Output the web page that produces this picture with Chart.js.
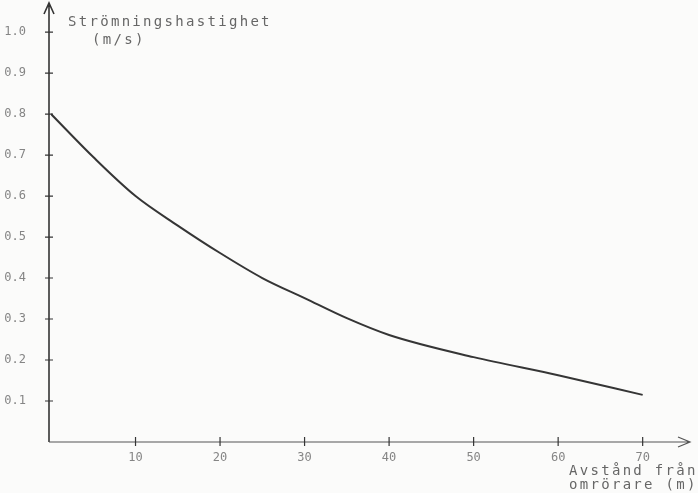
<!DOCTYPE html>
<html lang="sv">
<head>
<meta charset="UTF-8">
<title>Strömningshastighet</title>
<script src="https://cdn.jsdelivr.net/npm/chart.js"></script>
<style>
    body {
        margin: 0;
        background: #fbfbfa;
    }
    .wrap {
        position: relative;
        width: 698px;
        height: 493px;
    }
    .label {
        position: absolute;
        font-family: 'DejaVu Sans Mono', monospace;
        font-size: 14px;
        letter-spacing: 2.3px;
        color: #666;
        white-space: pre;
        line-height: 14px;
    }
</style>
</head>
<body>
<div class="wrap">
    <canvas id="chart" width="698" height="493"></canvas>
    <div class="label" style="left:68px; top:14px;">Strömningshastighet</div>
    <div class="label" style="left:92px; top:32px;">(m/s)</div>
    <div class="label" style="left:569px; top:463px;">Avstånd från</div>
    <div class="label" style="left:569px; top:477px;">omrörare (m)</div>
</div>

<script>
    // avstånd (m) och strömningshastighet (m/s), avläst ur kurvan
    const distance = [0, 5, 10, 15, 20, 25, 30, 35, 40, 50, 60, 70];
    const speed = [0.80, 0.695, 0.60, 0.528, 0.461, 0.40, 0.351, 0.302, 0.261, 0.207, 0.163, 0.115];

    const xTicks = [10, 20, 30, 40, 50, 60, 70];
    const yTicks = [0.1, 0.2, 0.3, 0.4, 0.5, 0.6, 0.7, 0.8, 0.9, 1.0];

    const ink = '#353535';
    const tickFont = { family: 'DejaVu Sans Mono', size: 12 };

    // axlar med pilar och tickstreck som korsar axeln
    const axesPlugin = {
        id: 'axes',
        afterDraw(chart) {
            const ctx = chart.ctx;
            const a = chart.chartArea;
            const xs = chart.scales.x;
            const ys = chart.scales.y;
            ctx.save();
            ctx.strokeStyle = ink;
            ctx.lineWidth = 1.6;

            // y-axel
            ctx.beginPath();
            ctx.moveTo(a.left - 2, a.bottom);
            ctx.lineTo(a.left - 2, a.top - 2);
            ctx.moveTo(a.left - 7, a.top + 9);
            ctx.lineTo(a.left - 2, a.top - 2);
            ctx.lineTo(a.left + 3, a.top + 9);
            ctx.stroke();

            // x-axel
            ctx.lineWidth = 1.2;
            ctx.strokeStyle = '#555';
            ctx.beginPath();
            ctx.moveTo(a.left - 2, a.bottom);
            ctx.lineTo(a.right, a.bottom);
            ctx.moveTo(a.right - 12, a.bottom - 5);
            ctx.lineTo(a.right, a.bottom);
            ctx.lineTo(a.right - 12, a.bottom + 5);
            ctx.stroke();

            ctx.lineWidth = 1.2;
            ctx.strokeStyle = ink;
            ctx.beginPath();
            yTicks.forEach(v => {
                const y = ys.getPixelForValue(v);
                ctx.moveTo(a.left - 6, y);
                ctx.lineTo(a.left + 2, y);
            });
            xTicks.forEach(v => {
                const x = xs.getPixelForValue(v);
                ctx.moveTo(x, a.bottom - 5);
                ctx.lineTo(x, a.bottom + 4);
            });
            ctx.stroke();
            ctx.restore();
        }
    };

    new Chart(document.getElementById('chart'), {
        type: 'line',
        data: {
            labels: distance,
            datasets: [{
                data: distance.map((d, i) => ({ x: d, y: speed[i] })),
                borderColor: ink,
                borderWidth: 2,
                pointRadius: 0,
                tension: 0.4,
                cubicInterpolationMode: 'monotone',
                fill: false
            }]
        },
        options: {
            responsive: false,
            animation: false,
            layout: { padding: { top: 5, right: 8, left: 0, bottom: 0 } },
            plugins: {
                legend: { display: false },
                tooltip: { enabled: false }
            },
            scales: {
                x: {
                    type: 'linear',
                    min: 0,
                    max: 75.6,
                    afterFit: s => {
                        s.height = 51;
                        s.paddingLeft = 0;
                        s.paddingRight = 0;
                    },
                    afterBuildTicks: s => { s.ticks = xTicks.map(v => ({ value: v })); },
                    grid: { display: false },
                    border: { display: false },
                    ticks: {
                        color: '#858585',
                        font: tickFont,
                        padding: 1,
                        maxRotation: 0,
                        callback: v => String(v)
                    }
                },
                y: {
                    type: 'linear',
                    min: 0,
                    max: 1.066,
                    afterFit: s => {
                        s.width = 51;
                        s.paddingTop = 0;
                        s.paddingBottom = 0;
                    },
                    afterBuildTicks: s => { s.ticks = yTicks.map(v => ({ value: v })); },
                    grid: { display: false },
                    border: { display: false },
                    ticks: {
                        color: '#858585',
                        font: tickFont,
                        padding: 17,
                        callback: v => Number(v).toFixed(1)
                    }
                }
            }
        },
        plugins: [axesPlugin]
    });
</script>
</body>
</html>
